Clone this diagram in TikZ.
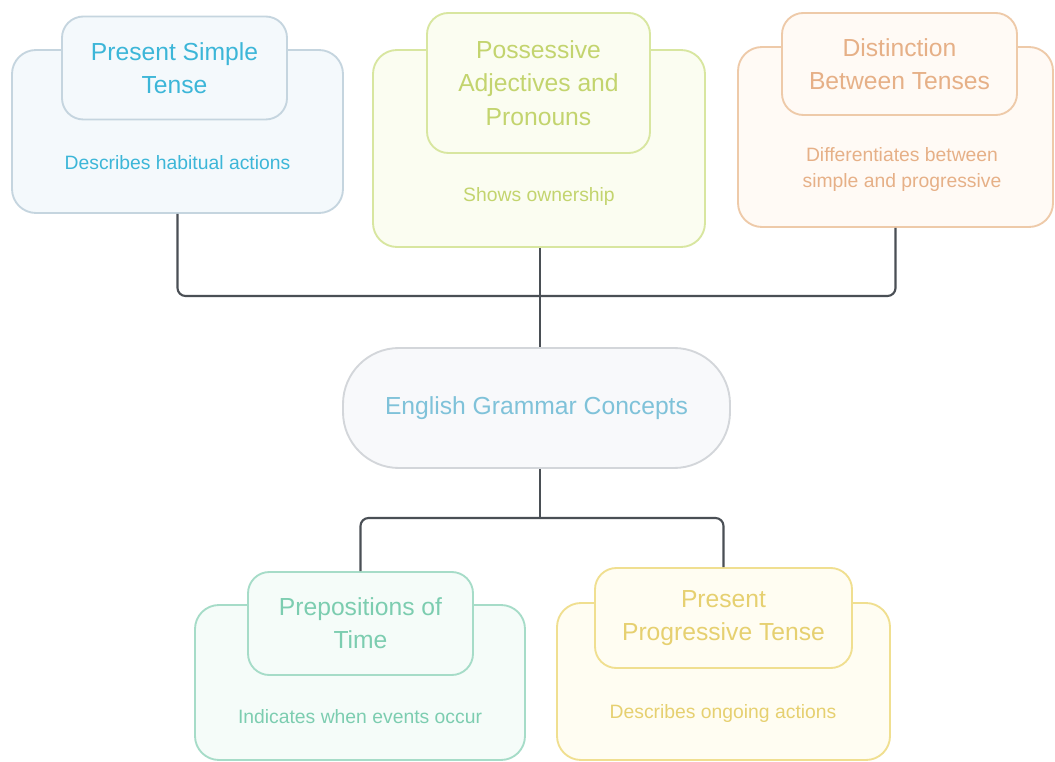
\documentclass[tikz,border=0pt]{standalone}
\usepackage{fontspec}
\setmainfont{Liberation Sans}
\definecolor{psB}{HTML}{C5D5DF}\definecolor{psF}{HTML}{F4F9FC}\definecolor{psT}{HTML}{3CB6D8}
\definecolor{paB}{HTML}{D8E6A0}\definecolor{paF}{HTML}{FBFDF1}\definecolor{paT}{HTML}{C3D46E}
\definecolor{dtB}{HTML}{EECAA9}\definecolor{dtF}{HTML}{FFFAF5}\definecolor{dtT}{HTML}{E6B087}
\definecolor{ceB}{HTML}{D3D6DA}\definecolor{ceF}{HTML}{F8F9FB}\definecolor{ceT}{HTML}{7FC2D9}
\definecolor{prB}{HTML}{A6DCC8}\definecolor{prF}{HTML}{F5FCF9}\definecolor{prT}{HTML}{7CCDB0}
\definecolor{pgB}{HTML}{F0DF90}\definecolor{pgF}{HTML}{FFFDF2}\definecolor{pgT}{HTML}{E6D070}
\definecolor{lineC}{HTML}{4A4F55}
\tikzset{
  outerbox/.style={draw=#1B, fill=#1F, line width=1.4pt, rounded corners=18pt, rectangle, inner sep=0pt},
  headbox/.style={draw=#1B, fill=#1F, line width=1.4pt, rounded corners=16pt, rectangle, inner sep=0pt,
     text=#1T, align=center, font=\fontsize{18.5}{25}\selectfont},
  desctext/.style={text=#1T, align=center, font=\fontsize{14.5}{19.5}\selectfont, inner sep=0pt},
  conn/.style={draw=lineC, line width=1.6pt, rounded corners=6pt},
}
\begin{document}
\begin{tikzpicture}[x=0.75pt,y=-0.75pt]
\useasboundingbox[fill=white] (0,0) rectangle (1055,762);
% top row
\node[outerbox=ps, minimum width=248.25pt, minimum height=122.25pt] (psO) at (177.5,131.5) {};
\node[headbox=ps, minimum width=168.75pt, minimum height=77.25pt] (psH) at (174.5,68) {Present Simple\\Tense};
\node[desctext=ps] (psD) at (177.5,163) {Describes habitual actions};

\node[outerbox=pa, minimum width=249pt, minimum height=147.75pt] (paO) at (539,148.5) {};
\node[headbox=pa, minimum width=167.25pt, minimum height=105pt] (paH) at (538.5,83) {Possessive\\Adjectives and\\Pronouns};
\node[desctext=pa] (paD) at (539,197) {Shows ownership};

\node[outerbox=dt, minimum width=236.25pt, minimum height=135pt] (dtO) at (895.5,137) {};
\node[headbox=dt, minimum width=176.25pt, minimum height=76.5pt] (dtH) at (899.5,64) {Distinction\\Between Tenses};
\node[desctext=dt] (dtD) at (902,170) {Differentiates between\\simple and progressive};

% center
\node[draw=ceB, fill=ceF, line width=1.4pt, rounded corners=42pt, minimum width=290.25pt, minimum height=90pt,
      text=ceT, font=\fontsize{18.5}{26}\selectfont] (ce) at (536.5,408) {English Grammar Concepts};

% bottom row
\node[outerbox=pr, minimum width=247.5pt, minimum height=116.25pt] (prO) at (360,682.5) {};
\node[headbox=pr, minimum width=168.75pt, minimum height=77.25pt] (prH) at (360.5,623.5) {Prepositions of\\Time};
\node[desctext=pr] (prD) at (360,717) {Indicates when events occur};

\node[outerbox=pg, minimum width=249.75pt, minimum height=117.75pt] (pgO) at (723.5,681.5) {};
\node[headbox=pg, minimum width=192.75pt, minimum height=75pt] (pgH) at (723.5,618) {Present\\Progressive Tense};
\node[desctext=pg] (pgD) at (723,713) {Describes ongoing actions};

% connectors
\coordinate (tbus) at (540,296);
\coordinate (bbus) at (540,518);
\draw[conn] (psO.south) |- (tbus);
\draw[conn] (dtO.south) |- (tbus);
\draw[conn] (paO.south -| tbus) -- (tbus |- ce.north);
\draw[conn] (ce.south -| bbus) -- (bbus);
\draw[conn] (prH.north) |- (bbus);
\draw[conn] (pgH.north) |- (bbus);
\end{tikzpicture}
\end{document}
